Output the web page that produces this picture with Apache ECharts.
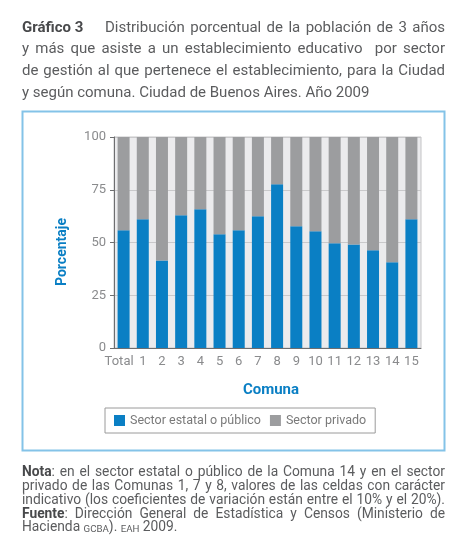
<!DOCTYPE html>
<html>
<head>
<meta charset="utf-8">
<script src="https://cdn.jsdelivr.net/npm/echarts@6/dist/echarts.min.js"></script>
<style>
  html, body { margin: 0; padding: 0; background: #fff; }
  #grafico { width: 465px; height: 550px; }
</style>
</head>
<body>
<div id="grafico"></div>
<script>
// datos
var comunas = ['Total', '1', '2', '3', '4', '5', '6', '7', '8', '9', '10', '11', '12', '13', '14', '15']
var estatal = [55.8, 61.0, 41.5, 62.9, 65.7, 53.9, 55.8, 62.4, 77.6, 57.7, 55.3, 49.6, 49.0, 46.3, 40.6, 61.0]
var privado = [44.2, 39.0, 58.5, 37.1, 34.3, 46.1, 44.2, 37.6, 22.4, 42.3, 44.7, 50.4, 51.0, 53.7, 59.4, 39.0]
var ticksY = [0, 25, 50, 75, 100]
var series1 = 'Sector estatal o público'
var series2 = 'Sector privado'

// textos (*negrita*, ^versalita^, ~ = espacio que no separa)
var titulo = [
    '*Gráfico~3*    Distribución porcentual de la población de 3 años',
    'y más que asiste a un establecimiento educativo  por sector',
    'de gestión al que pertenece el establecimiento, para la Ciudad',
    'y según comuna. Ciudad de Buenos Aires. Año 2009'
]
var notas = [
    '*Nota*: en el sector estatal o público de la Comuna 14 y en el sector',
    'privado de las Comunas 1, 7 y 8, valores de las celdas con carácter',
    'indicativo (los coeficientes de variación están entre el 10% y el 20%).',
    '*Fuente*: Dirección General de Estadística y Censos (Ministerio de',
    'Hacienda ^GCBA^). ^EAH^ 2009.'
]

var fuente = 'Roboto, "Liberation Sans", sans-serif'
var gris = '#5b5c5e'
var oscuro = '#48494b'

// texto justificado: cada palabra se mide y se reparte el sobrante en los espacios
var ctx = document.createElement('canvas').getContext('2d')
function medir(t, f) { ctx.font = f; return ctx.measureText(t).width }

function bloque(lineas, x0, y0, paso, ancho, tam, ultimaLibre) {
    var est = {
        n: { font: tam + 'px ' + fuente, fill: gris, dy: 0 },
        b: { font: 'bold ' + tam + 'px ' + fuente, fill: oscuro, dy: 0 },
        s: { font: (tam * 0.7).toFixed(1) + 'px ' + fuente, fill: gris, dy: tam * 0.09 }
    }
    var out = []
    var esp = medir(' ', est.n.font)
    lineas.forEach(function (linea, i) {
        var toks = linea.split(' ').map(function (tk) {
            var partes = tk.split(/(\*[^*]+\*|\^[^^]+\^)/).filter(function (p) { return p !== '' }).map(function (p) {
                var k = 'n'
                if (p[0] === '*') { k = 'b'; p = p.slice(1, -1) }
                else if (p[0] === '^') { k = 's'; p = p.slice(1, -1) }
                p = p.replace(/~/g, ' ')
                return { t: p, k: k, w: medir(p, est[k].font) }
            })
            var w = partes.reduce(function (a, p) { return a + p.w }, 0)
            return { partes: partes, w: w }
        })
        var nEsp = toks.length - 1
        var natural = toks.reduce(function (a, t) { return a + t.w }, 0) + nEsp * esp
        var hueco = esp
        if (!(ultimaLibre && i === lineas.length - 1) && nEsp > 0) hueco = esp + (ancho - natural) / nEsp
        var x = x0
        var y = y0 + i * paso
        toks.forEach(function (tk) {
            tk.partes.forEach(function (p) {
                out.push({
                    type: 'text', x: x, y: y + est[p.k].dy, silent: true,
                    style: { text: p.t, font: est[p.k].font, fill: est[p.k].fill, verticalAlign: 'middle' }
                })
                x += p.w
            })
            x += hueco
        })
    })
    return out
}

var graficos = [
    {
        type: 'rect',
        shape: { x: 22.5, y: 111.5, width: 422, height: 339 },
        style: { fill: 'none', stroke: '#84c3e8', lineWidth: 2 }
    },
    {
        type: 'text', x: 62, y: 252, rotation: Math.PI / 2,
        style: {
            text: 'Porcentaje', fill: '#0a7fc4', font: 'bold 14px ' + fuente,
            align: 'center', verticalAlign: 'middle'
        }
    },
    {
        type: 'text', x: 271, y: 390,
        style: {
            text: 'Comuna', fill: '#0a7fc4', font: 'bold 15px ' + fuente,
            align: 'center', verticalAlign: 'middle'
        }
    }
].concat(bloque(titulo, 22, 28, 21.7, 423, 15, true))
 .concat(bloque(notas, 22, 472.7, 13.8, 423, 13.8, true))

var option = {
    backgroundColor: '#fff',
    textStyle: { fontFamily: fuente },
    animation: false,
    graphic: graficos,
    legend: {
        left: 105, top: 408,
        padding: [6, 9],
        borderColor: '#9a9a9a', borderWidth: 1,
        itemWidth: 11, itemHeight: 11, itemGap: 9,
        icon: 'rect',
        textStyle: { color: '#7a7a7a', fontSize: 12.5 },
        data: [series1, series2]
    },
    grid: {
        left: 114, top: 137, right: 44, bottom: 202,
        show: true, backgroundColor: '#ebebed',
        borderColor: '#c4c4c6', borderWidth: 1
    },
    xAxis: {
        type: 'category',
        data: comunas,
        axisLine: { lineStyle: { color: '#6d6e70', width: 1 } },
        axisTick: { length: 4, lineStyle: { color: '#6d6e70' } },
        axisLabel: {
            color: '#8a8b8d', fontSize: 13, margin: 7, interval: 0,
            formatter: function (v) { return v === 'Total' ? '{t|' + v + '}' : v },
            rich: { t: { color: '#8a8b8d', fontSize: 13, padding: [0, 9, 0, 0] } }
        }
    },
    yAxis: {
        type: 'value',
        min: ticksY[0], max: ticksY[ticksY.length - 1], interval: 25,
        axisLine: { show: true, lineStyle: { color: '#6d6e70', width: 1 } },
        axisTick: { show: true, length: 4, lineStyle: { color: '#6d6e70' } },
        axisLabel: { color: '#8a8b8d', fontSize: 13, margin: 8 },
        splitLine: { lineStyle: { color: '#c9c9cb', width: 1 } }
    },
    series: [
        {
            name: series1, type: 'bar', stack: 'total',
            barWidth: 12,
            itemStyle: { color: '#0a7fc4' },
            data: estatal
        },
        {
            name: series2, type: 'bar', stack: 'total',
            barWidth: 12,
            itemStyle: { color: '#9c9d9f' },
            data: privado
        }
    ]
}

var myChart = echarts.init(document.getElementById('grafico'))
myChart.setOption(option)
</script>
</body>
</html>
